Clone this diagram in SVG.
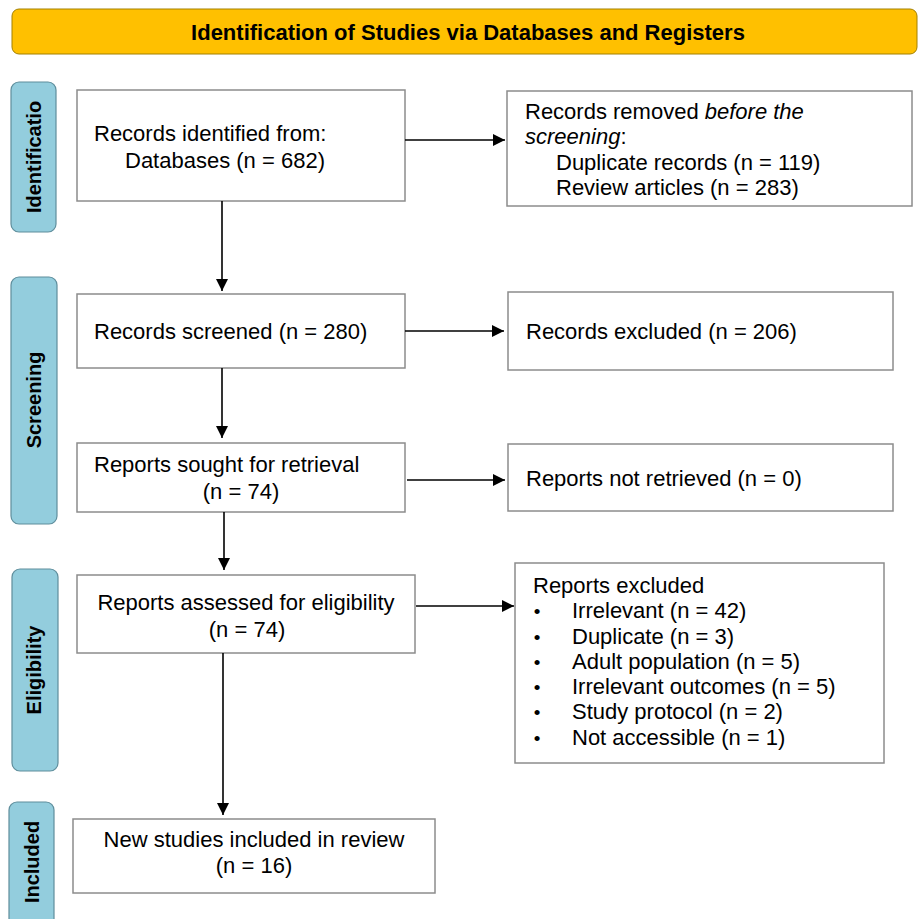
<svg xmlns="http://www.w3.org/2000/svg" width="919" height="919" viewBox="0 0 919 919">
<style>
.box{fill:#fff;stroke:#8c8c8c;stroke-width:1.5}
.side{fill:#93cddd;stroke:#5f8e9c;stroke-width:1.2}
.t{font-family:"Liberation Sans",Arial,sans-serif;font-size:22px;fill:#000}
.st{font-family:"Liberation Sans",Arial,sans-serif;font-size:20px;font-weight:bold;fill:#000}
.ttl{font-size:22px}
.bul{font-size:19px}
.c{text-anchor:middle}
.ln{stroke:#000;stroke-width:1.6;fill:none;marker-end:url(#ah)}
</style>
<defs>
<marker id="ah" markerUnits="userSpaceOnUse" markerWidth="12" markerHeight="12" refX="12" refY="6" orient="auto">
<path d="M0,0 L12,6 L0,12 z" fill="#000"/>
</marker>
</defs>
<rect width="919" height="919" fill="#fff"/>

<g id="title">
<rect x="12" y="9" width="905" height="45" rx="7" fill="#ffc000" stroke="#a38000" stroke-width="1"/>
<text class="st ttl c" x="468" y="40">Identification of Studies via Databases and Registers</text>
</g>

<g id="lbl-identification">
<rect class="side" x="11" y="82" width="45" height="150" rx="8"/>
<text class="st c" transform="translate(41,157) rotate(-90)">Identificatio</text>
</g>
<g id="lbl-screening">
<rect class="side" x="11" y="277" width="46" height="247" rx="8"/>
<text class="st c" transform="translate(41,400) rotate(-90)">Screening</text>
</g>
<g id="lbl-eligibility">
<rect class="side" x="12" y="569" width="46" height="202" rx="8"/>
<text class="st c" transform="translate(41,670) rotate(-90)">Eligibility</text>
</g>
<g id="lbl-included">
<rect class="side" x="9" y="802" width="45" height="130" rx="8"/>
<text class="st c" transform="translate(39,862) rotate(-90)">Included</text>
</g>

<g id="n-identified">
<rect class="box" x="77" y="90" width="328" height="111"/>
<text class="t" x="94" y="141">Records identified from:</text>
<text class="t" x="125" y="168">Databases (n = 682)</text>
</g>
<g id="n-removed">
<rect class="box" x="507" y="91" width="405" height="115"/>
<text class="t" x="525" y="119">Records removed <tspan font-style="italic">before the</tspan></text>
<text class="t" x="525" y="144"><tspan font-style="italic">screening</tspan>:</text>
<text class="t" x="556" y="170">Duplicate records (n = 119)</text>
<text class="t" x="556" y="195">Review articles (n = 283)</text>
</g>
<g id="n-screened">
<rect class="box" x="77" y="294" width="328" height="74"/>
<text class="t" x="94" y="339">Records screened (n = 280)</text>
</g>
<g id="n-excluded">
<rect class="box" x="508" y="292" width="385" height="78"/>
<text class="t" x="526" y="339">Records excluded (n = 206)</text>
</g>
<g id="n-sought">
<rect class="box" x="77" y="443" width="328" height="69"/>
<text class="t" x="94" y="472">Reports sought for retrieval</text>
<text class="t c" x="241" y="499">(n = 74)</text>
</g>
<g id="n-notretrieved">
<rect class="box" x="508" y="444" width="385" height="67"/>
<text class="t" x="526" y="486">Reports not retrieved (n = 0)</text>
</g>
<g id="n-assessed">
<rect class="box" x="77" y="575" width="338" height="78"/>
<text class="t c" x="246" y="610">Reports assessed for eligibility</text>
<text class="t c" x="247" y="637">(n = 74)</text>
</g>
<g id="n-reportsexcluded">
<rect class="box" x="515" y="563" width="369" height="200"/>
<text class="t" x="533" y="593">Reports excluded</text>
<g class="t bul c">
<text x="537" y="618">•</text>
<text x="537" y="644">•</text>
<text x="537" y="669">•</text>
<text x="537" y="694">•</text>
<text x="537" y="719">•</text>
<text x="537" y="745">•</text>
</g>
<text class="t" x="572" y="618">Irrelevant (n = 42)</text>
<text class="t" x="572" y="644">Duplicate (n = 3)</text>
<text class="t" x="572" y="669">Adult population (n = 5)</text>
<text class="t" x="572" y="694">Irrelevant outcomes (n = 5)</text>
<text class="t" x="572" y="719">Study protocol (n = 2)</text>
<text class="t" x="572" y="745">Not accessible (n = 1)</text>
</g>
<g id="n-included">
<rect class="box" x="73" y="819" width="362" height="74"/>
<text class="t c" x="254" y="847">New studies included in review</text>
<text class="t c" x="254" y="873">(n = 16)</text>
</g>

<g id="connectors">
<line class="ln" x1="405" y1="140" x2="505" y2="140"/>
<line class="ln" x1="222" y1="201" x2="222" y2="291"/>
<line class="ln" x1="405" y1="331" x2="504" y2="331"/>
<line class="ln" x1="222" y1="368" x2="222" y2="438"/>
<line class="ln" x1="407" y1="480" x2="505" y2="480"/>
<line class="ln" x1="224" y1="512" x2="224" y2="570"/>
<line class="ln" x1="416" y1="606" x2="514" y2="606"/>
<line class="ln" x1="223" y1="653" x2="223" y2="815"/>
</g>
</svg>
